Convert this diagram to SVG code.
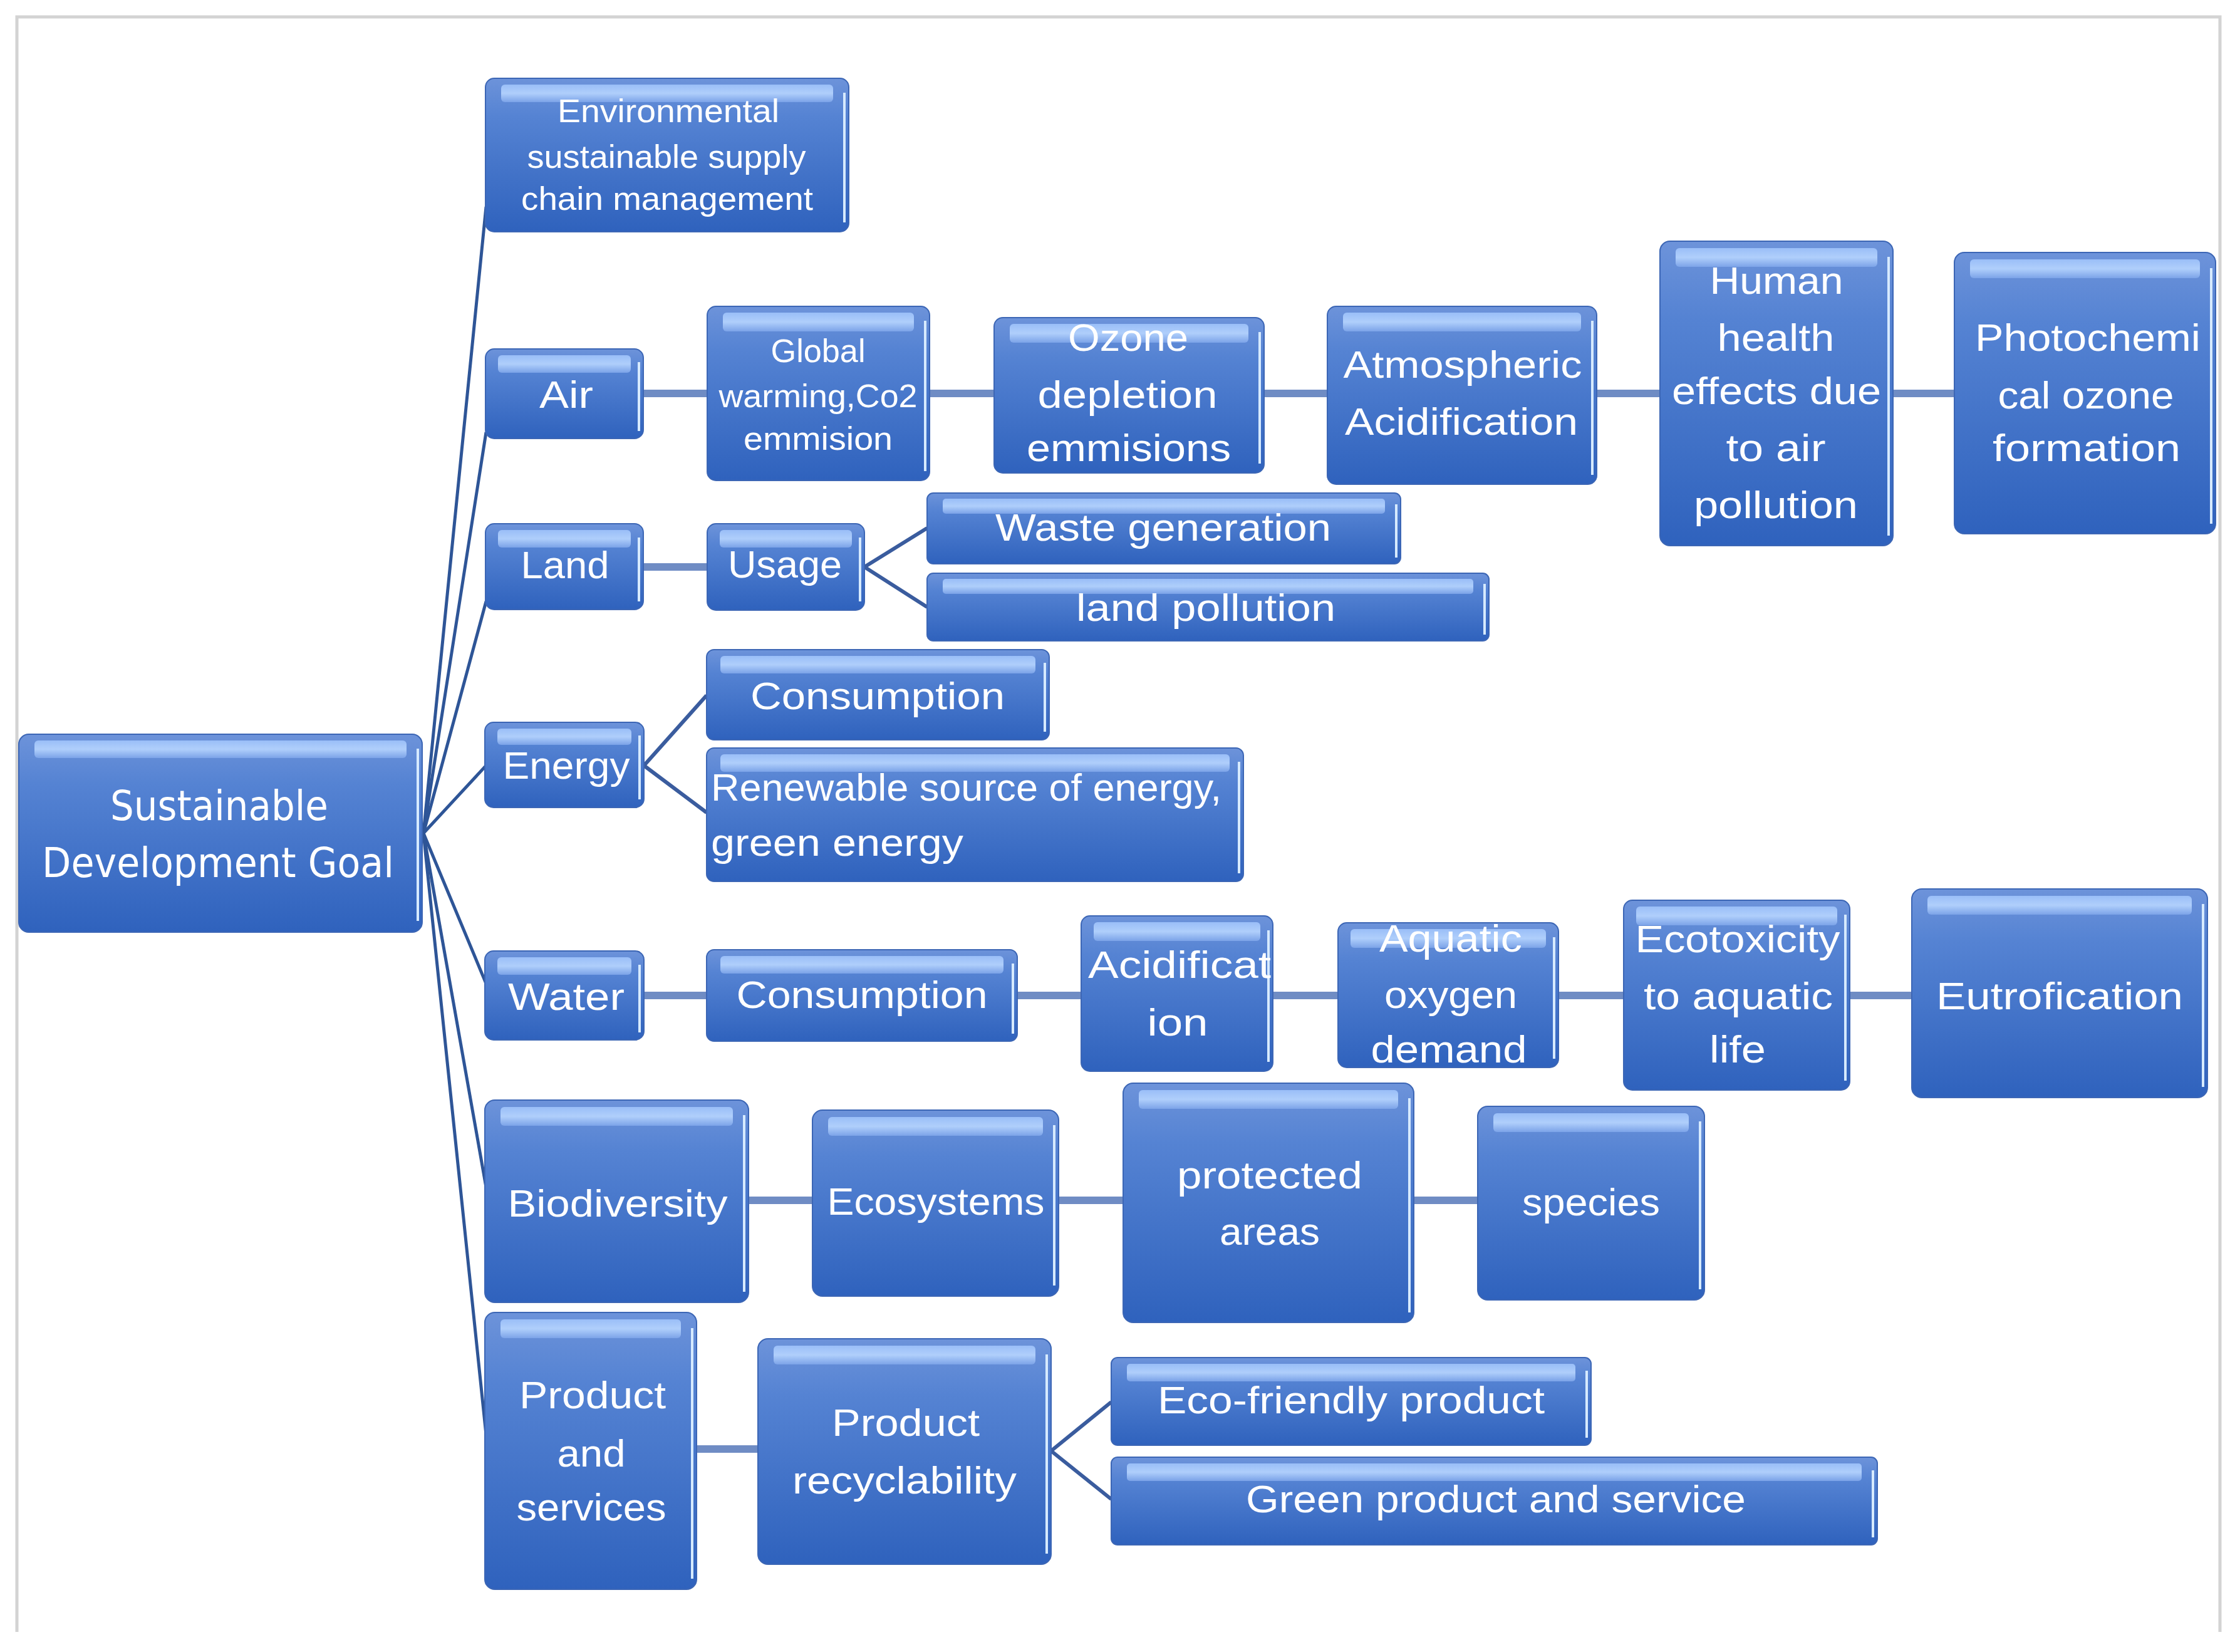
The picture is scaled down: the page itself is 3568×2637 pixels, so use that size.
<svg xmlns="http://www.w3.org/2000/svg" width="3568" height="2637" viewBox="0 0 3568 2637">
<defs>
<linearGradient id="bg" x1="0" y1="0" x2="0" y2="1">
<stop offset="0" stop-color="#6d93da"/>
<stop offset="0.25" stop-color="#5583d3"/>
<stop offset="1" stop-color="#2f62bd"/>
</linearGradient>
<linearGradient id="hlg" x1="0" y1="0" x2="0" y2="1">
<stop offset="0" stop-color="#9fc3fb"/>
<stop offset="0.5" stop-color="#b8d6ff"/>
<stop offset="1" stop-color="#7fa6ea"/>
</linearGradient>
<style>
.frame{fill:none;stroke:#d3d3d3;stroke-width:5}
.box{fill:url(#bg);stroke:#3c66b5;stroke-width:2}
.hl{fill:url(#hlg);opacity:0.9}
.edge{stroke:#d6eaff;stroke-width:4;fill:none}
.t{font-family:"Liberation Sans",Arial,sans-serif;font-size:62px;fill:#ffffff;text-anchor:middle}
.ts{font-family:"Liberation Sans",Arial,sans-serif;font-size:52px;fill:#ffffff;text-anchor:middle}
.tr{font-family:"DejaVu Sans","Liberation Sans",sans-serif;font-size:66px;fill:#ffffff;text-anchor:middle}
.st{text-anchor:start}
.fan{stroke:#2e5597;stroke-width:5;fill:none}
.h{stroke:#6f8cc4;stroke-width:12;fill:none}
.br{stroke:#3a5c9e;stroke-width:6;fill:none}
</style>
</defs>
<rect width="3568" height="2637" fill="#ffffff"/>
<path class="frame" d="M27,2605 V27 H3544 V2605"/>

<g id="connectors">
<line class="fan" x1="676" y1="1330" x2="776" y2="330"/>
<line class="fan" x1="676" y1="1330" x2="776" y2="690"/>
<line class="fan" x1="676" y1="1330" x2="776" y2="960"/>
<line class="fan" x1="676" y1="1330" x2="776" y2="1222"/>
<line class="fan" x1="676" y1="1330" x2="776" y2="1570"/>
<line class="fan" x1="676" y1="1330" x2="776" y2="1895"/>
<line class="fan" x1="676" y1="1330" x2="776" y2="2290"/>
<line class="h" x1="1027" y1="628" x2="1129" y2="628"/>
<line class="h" x1="1484" y1="628" x2="1587" y2="628"/>
<line class="h" x1="2018" y1="628" x2="2119" y2="628"/>
<line class="h" x1="2549" y1="628" x2="2650" y2="628"/>
<line class="h" x1="3022" y1="628" x2="3120" y2="628"/>
<line class="h" x1="1027" y1="905" x2="1129" y2="905"/>
<line class="br" x1="1380" y1="905" x2="1480" y2="843"/>
<line class="br" x1="1380" y1="905" x2="1480" y2="969"/>
<line class="br" x1="1028" y1="1222" x2="1128" y2="1110"/>
<line class="br" x1="1028" y1="1222" x2="1128" y2="1297"/>
<line class="h" x1="1028" y1="1589" x2="1128" y2="1589"/>
<line class="h" x1="1624" y1="1589" x2="1726" y2="1589"/>
<line class="h" x1="2032" y1="1589" x2="2136" y2="1589"/>
<line class="h" x1="2488" y1="1589" x2="2592" y2="1589"/>
<line class="h" x1="2953" y1="1589" x2="3052" y2="1589"/>
<line class="h" x1="1195" y1="1916" x2="1297" y2="1916"/>
<line class="h" x1="1690" y1="1916" x2="1793" y2="1916"/>
<line class="h" x1="2257" y1="1916" x2="2359" y2="1916"/>
<line class="h" x1="1112" y1="2313" x2="1210" y2="2313"/>
<line class="br" x1="1678" y1="2316" x2="1774" y2="2238"/>
<line class="br" x1="1678" y1="2316" x2="1774" y2="2393"/>
</g>

<g id="n-root">
<rect class="box" x="30" y="1172" width="644" height="316" rx="16"/>
<rect class="hl" x="55" y="1182" width="594" height="28" rx="6"/>
<line class="edge" x1="667" y1="1195" x2="667" y2="1470"/>
<text class="tr" x="350" y="1309" textLength="348" lengthAdjust="spacingAndGlyphs">Sustainable</text>
<text class="tr" x="348" y="1400" textLength="562" lengthAdjust="spacingAndGlyphs">Development Goal</text>
</g>

<g id="n-env">
<rect class="box" x="775" y="125" width="580" height="245" rx="14"/>
<rect class="hl" x="800" y="135" width="530" height="28" rx="6"/>
<line class="edge" x1="1348" y1="148" x2="1348" y2="355"/>
<text class="ts" x="1067" y="195" textLength="354" lengthAdjust="spacingAndGlyphs">Environmental</text>
<text class="ts" x="1064" y="268" textLength="445" lengthAdjust="spacingAndGlyphs">sustainable supply</text>
<text class="ts" x="1065" y="335" textLength="466" lengthAdjust="spacingAndGlyphs">chain management</text>
</g>

<g id="n-air">
<rect class="box" x="775" y="557" width="252" height="143" rx="14"/>
<rect class="hl" x="795" y="567" width="212" height="28" rx="6"/>
<line class="edge" x1="1020" y1="578" x2="1020" y2="688"/>
<text class="t" x="904" y="651" textLength="86" lengthAdjust="spacingAndGlyphs">Air</text>
</g>

<g id="n-gw">
<rect class="box" x="1129" y="489" width="355" height="278" rx="14"/>
<rect class="hl" x="1154" y="499" width="305" height="30" rx="6"/>
<line class="edge" x1="1477" y1="512" x2="1477" y2="752"/>
<text class="ts" x="1306" y="578" textLength="151" lengthAdjust="spacingAndGlyphs">Global</text>
<text class="ts" x="1306" y="650" textLength="317" lengthAdjust="spacingAndGlyphs">warming,Co2</text>
<text class="ts" x="1306" y="718" textLength="238" lengthAdjust="spacingAndGlyphs">emmision</text>
</g>

<g id="n-ozone">
<rect class="box" x="1587" y="507" width="431" height="248" rx="14"/>
<rect class="hl" x="1612" y="517" width="381" height="30" rx="6"/>
<line class="edge" x1="2011" y1="530" x2="2011" y2="740"/>
<text class="t" x="1801" y="560" textLength="192" lengthAdjust="spacingAndGlyphs">Ozone</text>
<text class="t" x="1800" y="651" textLength="287" lengthAdjust="spacingAndGlyphs">depletion</text>
<text class="t" x="1802" y="736" textLength="326" lengthAdjust="spacingAndGlyphs">emmisions</text>
</g>

<g id="n-atmos">
<rect class="box" x="2119" y="489" width="430" height="284" rx="14"/>
<rect class="hl" x="2144" y="499" width="380" height="30" rx="6"/>
<line class="edge" x1="2542" y1="512" x2="2542" y2="758"/>
<text class="t" x="2335" y="603" textLength="381" lengthAdjust="spacingAndGlyphs">Atmospheric</text>
<text class="t" x="2333" y="694" textLength="372" lengthAdjust="spacingAndGlyphs">Acidification</text>
</g>

<g id="n-human">
<rect class="box" x="2650" y="385" width="372" height="486" rx="16"/>
<rect class="hl" x="2675" y="396" width="322" height="30" rx="6"/>
<line class="edge" x1="3015" y1="410" x2="3015" y2="855"/>
<text class="t" x="2836" y="469" textLength="213" lengthAdjust="spacingAndGlyphs">Human</text>
<text class="t" x="2835" y="560" textLength="187" lengthAdjust="spacingAndGlyphs">health</text>
<text class="t" x="2836" y="645" textLength="334" lengthAdjust="spacingAndGlyphs">effects due</text>
<text class="t" x="2835" y="736" textLength="159" lengthAdjust="spacingAndGlyphs">to air</text>
<text class="t" x="2835" y="827" textLength="262" lengthAdjust="spacingAndGlyphs">pollution</text>
</g>

<g id="n-photo">
<rect class="box" x="3120" y="403" width="417" height="449" rx="16"/>
<rect class="hl" x="3145" y="414" width="367" height="30" rx="6"/>
<line class="edge" x1="3530" y1="428" x2="3530" y2="836"/>
<text class="t" x="3333" y="560" textLength="360" lengthAdjust="spacingAndGlyphs">Photochemi</text>
<text class="t" x="3330" y="652" textLength="281" lengthAdjust="spacingAndGlyphs">cal ozone</text>
<text class="t" x="3331" y="736" textLength="300" lengthAdjust="spacingAndGlyphs">formation</text>
</g>

<g id="n-land">
<rect class="box" x="775" y="836" width="252" height="137" rx="14"/>
<rect class="hl" x="795" y="846" width="212" height="28" rx="6"/>
<line class="edge" x1="1020" y1="858" x2="1020" y2="960"/>
<text class="t" x="902" y="923" textLength="141" lengthAdjust="spacingAndGlyphs">Land</text>
</g>

<g id="n-usage">
<rect class="box" x="1129" y="836" width="251" height="138" rx="14"/>
<rect class="hl" x="1149" y="846" width="211" height="28" rx="6"/>
<line class="edge" x1="1373" y1="858" x2="1373" y2="960"/>
<text class="t" x="1253" y="922" textLength="182" lengthAdjust="spacingAndGlyphs">Usage</text>
</g>

<g id="n-waste">
<rect class="box" x="1480" y="787" width="756" height="113" rx="10"/>
<rect class="hl" x="1505" y="796" width="706" height="24" rx="5"/>
<line class="edge" x1="2229" y1="805" x2="2229" y2="890"/>
<text class="t" x="1857" y="863" textLength="536" lengthAdjust="spacingAndGlyphs">Waste generation</text>
</g>

<g id="n-landpol">
<rect class="box" x="1480" y="915" width="897" height="108" rx="10"/>
<rect class="hl" x="1505" y="924" width="847" height="24" rx="5"/>
<line class="edge" x1="2370" y1="932" x2="2370" y2="1013"/>
<text class="t" x="1925" y="991" textLength="414" lengthAdjust="spacingAndGlyphs">land pollution</text>
</g>

<g id="n-energy">
<rect class="box" x="774" y="1153" width="254" height="136" rx="14"/>
<rect class="hl" x="794" y="1163" width="214" height="26" rx="6"/>
<line class="edge" x1="1021" y1="1174" x2="1021" y2="1276"/>
<text class="t" x="904" y="1243" textLength="203" lengthAdjust="spacingAndGlyphs">Energy</text>
</g>

<g id="n-econs">
<rect class="box" x="1128" y="1037" width="547" height="144" rx="12"/>
<rect class="hl" x="1150" y="1047" width="503" height="28" rx="6"/>
<line class="edge" x1="1668" y1="1058" x2="1668" y2="1168"/>
<text class="t" x="1401" y="1132" textLength="406" lengthAdjust="spacingAndGlyphs">Consumption</text>
</g>

<g id="n-renew">
<rect class="box" x="1128" y="1194" width="857" height="213" rx="12"/>
<rect class="hl" x="1150" y="1204" width="813" height="28" rx="6"/>
<line class="edge" x1="1978" y1="1216" x2="1978" y2="1394"/>
<text class="t st" x="1135" y="1278" textLength="815" lengthAdjust="spacingAndGlyphs">Renewable source of energy,</text>
<text class="t st" x="1135" y="1366" textLength="403" lengthAdjust="spacingAndGlyphs">green energy</text>
</g>

<g id="n-water">
<rect class="box" x="774" y="1518" width="254" height="142" rx="14"/>
<rect class="hl" x="794" y="1528" width="214" height="28" rx="6"/>
<line class="edge" x1="1021" y1="1540" x2="1021" y2="1648"/>
<text class="t" x="904" y="1612" textLength="186" lengthAdjust="spacingAndGlyphs">Water</text>
</g>

<g id="n-wcons">
<rect class="box" x="1128" y="1516" width="496" height="146" rx="12"/>
<rect class="hl" x="1150" y="1526" width="452" height="28" rx="6"/>
<line class="edge" x1="1617" y1="1538" x2="1617" y2="1650"/>
<text class="t" x="1376" y="1609" textLength="401" lengthAdjust="spacingAndGlyphs">Consumption</text>
</g>

<g id="n-acid">
<rect class="box" x="1726" y="1462" width="306" height="248" rx="14"/>
<rect class="hl" x="1746" y="1472" width="266" height="30" rx="6"/>
<line class="edge" x1="2025" y1="1485" x2="2025" y2="1695"/>
<text class="t" x="1883" y="1561" textLength="292" lengthAdjust="spacingAndGlyphs">Acidificat</text>
<text class="t" x="1880" y="1653" textLength="97" lengthAdjust="spacingAndGlyphs">ion</text>
</g>

<g id="n-aquatic">
<rect class="box" x="2136" y="1473" width="352" height="231" rx="14"/>
<rect class="hl" x="2156" y="1483" width="312" height="30" rx="6"/>
<line class="edge" x1="2481" y1="1496" x2="2481" y2="1690"/>
<text class="t" x="2316" y="1519" textLength="228" lengthAdjust="spacingAndGlyphs">Aquatic</text>
<text class="t" x="2316" y="1609" textLength="212" lengthAdjust="spacingAndGlyphs">oxygen</text>
<text class="t" x="2313" y="1696" textLength="249" lengthAdjust="spacingAndGlyphs">demand</text>
</g>

<g id="n-ecotox">
<rect class="box" x="2592" y="1437" width="361" height="303" rx="14"/>
<rect class="hl" x="2612" y="1447" width="321" height="30" rx="6"/>
<line class="edge" x1="2946" y1="1460" x2="2946" y2="1725"/>
<text class="t" x="2774" y="1520" textLength="327" lengthAdjust="spacingAndGlyphs">Ecotoxicity</text>
<text class="t" x="2775" y="1611" textLength="302" lengthAdjust="spacingAndGlyphs">to aquatic</text>
<text class="t" x="2774" y="1696" textLength="90" lengthAdjust="spacingAndGlyphs">life</text>
</g>

<g id="n-eutro">
<rect class="box" x="3052" y="1419" width="472" height="333" rx="16"/>
<rect class="hl" x="3077" y="1430" width="422" height="30" rx="6"/>
<line class="edge" x1="3517" y1="1443" x2="3517" y2="1735"/>
<text class="t" x="3288" y="1611" textLength="394" lengthAdjust="spacingAndGlyphs">Eutrofication</text>
</g>

<g id="n-bio">
<rect class="box" x="774" y="1756" width="421" height="323" rx="16"/>
<rect class="hl" x="799" y="1767" width="371" height="30" rx="6"/>
<line class="edge" x1="1188" y1="1780" x2="1188" y2="2062"/>
<text class="t" x="986" y="1942" textLength="351" lengthAdjust="spacingAndGlyphs">Biodiversity</text>
</g>

<g id="n-ecosys">
<rect class="box" x="1297" y="1772" width="393" height="297" rx="16"/>
<rect class="hl" x="1322" y="1783" width="343" height="30" rx="6"/>
<line class="edge" x1="1683" y1="1796" x2="1683" y2="2052"/>
<text class="t" x="1494" y="1939" textLength="347" lengthAdjust="spacingAndGlyphs">Ecosystems</text>
</g>

<g id="n-protected">
<rect class="box" x="1793" y="1729" width="464" height="382" rx="16"/>
<rect class="hl" x="1818" y="1740" width="414" height="30" rx="6"/>
<line class="edge" x1="2250" y1="1753" x2="2250" y2="2095"/>
<text class="t" x="2027" y="1897" textLength="296" lengthAdjust="spacingAndGlyphs">protected</text>
<text class="t" x="2027" y="1987" textLength="160" lengthAdjust="spacingAndGlyphs">areas</text>
</g>

<g id="n-species">
<rect class="box" x="2359" y="1766" width="362" height="309" rx="16"/>
<rect class="hl" x="2384" y="1777" width="312" height="30" rx="6"/>
<line class="edge" x1="2714" y1="1790" x2="2714" y2="2058"/>
<text class="t" x="2540" y="1940" textLength="220" lengthAdjust="spacingAndGlyphs">species</text>
</g>

<g id="n-prod">
<rect class="box" x="774" y="2095" width="338" height="442" rx="16"/>
<rect class="hl" x="799" y="2106" width="288" height="30" rx="6"/>
<line class="edge" x1="1105" y1="2120" x2="1105" y2="2520"/>
<text class="t" x="946" y="2248" textLength="234" lengthAdjust="spacingAndGlyphs">Product</text>
<text class="t" x="944" y="2341" textLength="109" lengthAdjust="spacingAndGlyphs">and</text>
<text class="t" x="944" y="2427" textLength="239" lengthAdjust="spacingAndGlyphs">services</text>
</g>

<g id="n-recyc">
<rect class="box" x="1210" y="2137" width="468" height="360" rx="16"/>
<rect class="hl" x="1235" y="2148" width="418" height="30" rx="6"/>
<line class="edge" x1="1671" y1="2162" x2="1671" y2="2480"/>
<text class="t" x="1446" y="2292" textLength="236" lengthAdjust="spacingAndGlyphs">Product</text>
<text class="t" x="1444" y="2384" textLength="358" lengthAdjust="spacingAndGlyphs">recyclability</text>
</g>

<g id="n-ecofriendly">
<rect class="box" x="1774" y="2167" width="766" height="140" rx="10"/>
<rect class="hl" x="1799" y="2177" width="716" height="28" rx="5"/>
<line class="edge" x1="2533" y1="2188" x2="2533" y2="2295"/>
<text class="t" x="2157" y="2256" textLength="618" lengthAdjust="spacingAndGlyphs">Eco-friendly product</text>
</g>

<g id="n-green">
<rect class="box" x="1774" y="2326" width="1223" height="140" rx="10"/>
<rect class="hl" x="1799" y="2336" width="1173" height="28" rx="5"/>
<line class="edge" x1="2990" y1="2347" x2="2990" y2="2454"/>
<text class="t" x="2388" y="2414" textLength="798" lengthAdjust="spacingAndGlyphs">Green product and service</text>
</g>
</svg>
